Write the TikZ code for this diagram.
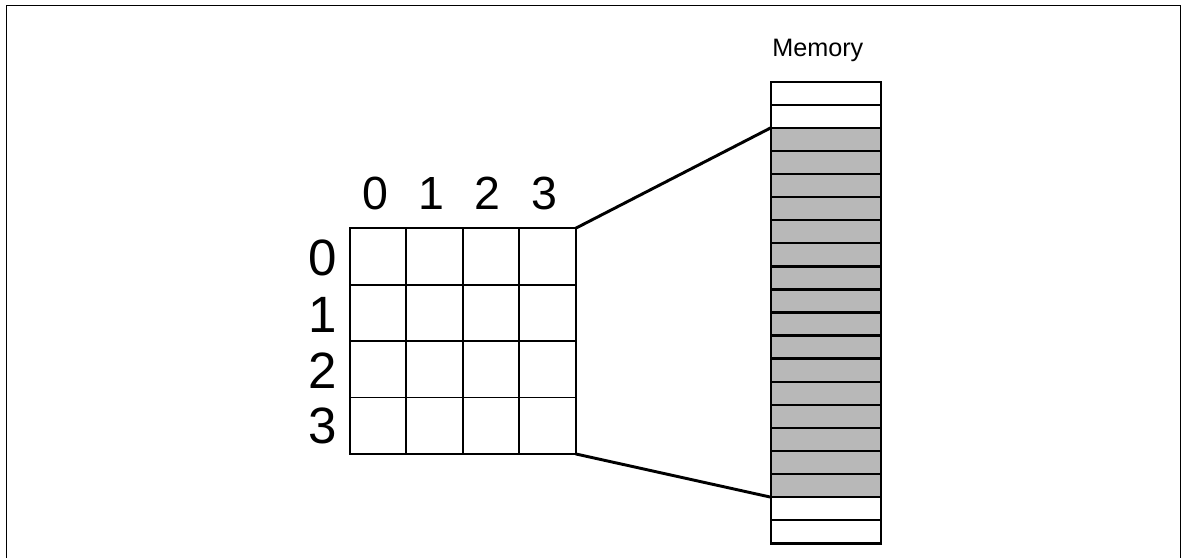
\documentclass[tikz,border=0pt]{standalone}
\usepackage{fontspec}
\setmainfont{Liberation Sans}
\definecolor{memgray}{RGB}{184,184,184}
\begin{document}
\begin{tikzpicture}[x=0.75pt,y=-0.75pt,
  cell/.style={draw, line width=1.4pt, minimum width=42.3pt, minimum height=42.3pt, inner sep=0pt, outer sep=0pt},
  memcell/.style={draw, line width=1.8pt, minimum width=82.5pt, minimum height=17.31pt, inner sep=0pt, outer sep=0pt, fill=white},
  memused/.style={memcell, fill=memgray},
  collabel/.style={font=\fontsize{34.9}{40}\selectfont, inner sep=0pt},
  rowlabel/.style={font=\fontsize{38.3}{44}\selectfont, inner sep=0pt, anchor=east},
  link/.style={line width=2.2pt}]
\useasboundingbox (0,0) rectangle (1181,558);
% frame
\draw[line width=1.1pt] (6.5,558) -- (6.5,5.5) -- (1180.3,5.5) -- (1180.3,558);
% grid cells
\foreach \r in {0,...,3}{
  \foreach \c in {0,...,3}{
    \node[cell] (c-\r-\c) at ({350+28.2+56.4*\c},{228.3+28.2+56.4*\r}) {};
  }
}
% column labels
\node[collabel] (cl0) at (375,193.3) {0};
\node[collabel] (cl1) at (431,193.3) {1};
\node[collabel] (cl2) at (487.5,193.3) {2};
\node[collabel] (cl3) at (544,193.3) {3};
% row labels
\node[rowlabel] (rl0) at (337,258.3) {0};
\node[rowlabel] (rl1) at (337,314.5) {1};
\node[rowlabel] (rl2) at (337,371) {2};
\node[rowlabel] (rl3) at (337,425.5) {3};
% memory
\foreach \i in {0,1,18,19}{
  \node[memcell] (m\i) at (825.7,{81.7+11.54+23.08*\i}) {};
}
\foreach \i in {2,...,17}{
  \node[memused] (m\i) at (825.7,{81.7+11.54+23.08*\i}) {};
}
\node[font=\fontsize{18.9}{22}\selectfont, inner sep=0pt, anchor=base] (memlabel) at (817.8,56.7) {Memory};
% connectors
\draw[link] (c-0-3.north east) -- (m2.north west);
\draw[link] (c-3-3.south east) -- (m17.south west);
\end{tikzpicture}
\end{document}
